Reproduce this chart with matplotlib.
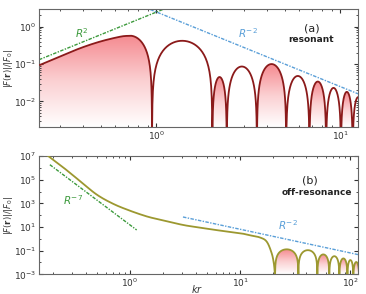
import numpy as np
import matplotlib
matplotlib.use('Agg')
import matplotlib.pyplot as plt
from matplotlib.colors import LinearSegmentedColormap
from matplotlib.patches import Polygon
from matplotlib.ticker import FixedLocator, NullFormatter, LogFormatterMathtext

# ---- panel (a): resonant ----
a_rise_x = [0.234, 0.30, 0.386, 0.496, 0.637, 0.72]
a_rise_y = [0.095, 0.158, 0.265, 0.40, 0.54, 0.575]
a_zeros = [0.95, 2.02, 2.42, 3.53, 5.09, 6.81, 8.39, 10.1, 11.7, 13.4]
a_peaks = [0.42, 0.045, 0.086, 0.10, 0.048, 0.034, 0.023, 0.018, 0.013]
a_filled = [True, False, True, False, True, False, True, False, True, False]

# ---- panel (b): off-resonance ----
b_x = [0.181, 0.248, 0.351, 0.498, 0.705, 1.0, 1.42, 1.87, 3.03, 4.3, 6.1,
       10.0, 12.3, 15.2, 17.5, 19.4, 20.3, 20.7]
b_y = [1e7, 1.08e6, 7.8e4, 5.6e3, 910, 240, 79, 42, 15, 9.0, 5.5,
       3.0, 2.0, 1.3, 0.57, 0.06, 0.008, 0.0012]
b_zeros = [20.8, 33.9, 50.4, 64.7, 79.9, 94.6, 107, 121]
b_peaks = [0.13, 0.11, 0.048, 0.034, 0.022, 0.016, 0.011]
b_filled = [True, False, True, False, True, False, True]

# guide lines (power laws)
a_r2 = (2.45, [0.231, 1.1])
a_rm2 = (2.5, [0.93, 12.5])
b_rm7 = (15.0, [0.187, 1.15])
b_rm2 = (650.0, [3.03, 118])

red = '#8b1a1a'
olive = '#9c9830'
green = '#3c9a3c'
blue = '#5a9fd8'
grad = LinearSegmentedColormap.from_list('g', ['#ffffff', '#fbd0d2', '#f58a90'])
dashdot = (0, (2.5, 1, 1, 1))


def smooth(x, y, n=16):
    # Catmull-Rom through the read points, in log-log space (for drawing only)
    P = np.column_stack([np.log10(x), np.log10(y)])
    P = np.vstack([2 * P[0] - P[1], P, 2 * P[-1] - P[-2]])
    out = []
    t = np.linspace(0, 1, n, endpoint=False)[:, None]
    for i in range(1, len(P) - 2):
        p0, p1, p2, p3 = P[i - 1:i + 3]
        out.append(0.5 * (2 * p1 + (-p0 + p2) * t
                          + (2 * p0 - 5 * p1 + 4 * p2 - p3) * t ** 2
                          + (-p0 + 3 * p1 - 3 * p2 + p3) * t ** 3))
    out.append(P[-2][None])
    out = np.vstack(out)
    return 10 ** out[:, 0], 10 ** out[:, 1]


def arc(x0, x1, peak, n=80, half=None):
    s = np.linspace(0, 1, n)
    t = (1 - np.cos(np.pi * s)) / 2
    lx = np.log10(x0) + t * (np.log10(x1) - np.log10(x0))
    if half == 'fall':
        y = peak * np.cos(np.pi / 2 * t)
    else:
        y = peak * np.sin(np.pi * t)
    return 10 ** lx, y


def grad_fill(ax, x, y, ybot):
    y = np.maximum(y, 1e-12)
    verts = np.column_stack([np.r_[x[0], x, x[-1]], np.r_[ybot, y, ybot]])
    poly = Polygon(verts, closed=True, transform=ax.transData)
    to_ax = ax.transData + ax.transAxes.inverted()
    yb_ax = ax.get_ylim()[0]
    (ax0, ay0), (ax1, ay1) = to_ax.transform([(x[0], yb_ax), (x[-1], y.max())])
    img = np.linspace(0, 1, 256).reshape(-1, 1)
    xl, yl = ax.get_xlim(), ax.get_ylim()
    im = ax.imshow(img, cmap=grad, origin='lower', aspect='auto',
                   extent=[ax0, ax1, ay0, ay1], transform=ax.transAxes,
                   zorder=1, interpolation='bilinear')
    im.set_clip_path(poly)
    ax.set_xlim(xl)
    ax.set_ylim(yl)


def style(ax):
    ax.set_xscale('log')
    ax.set_yscale('log')
    ax.tick_params(which='both', direction='in', top=True, right=True,
                   labelsize=6.5, colors='#333333', pad=2)
    ax.tick_params(which='major', length=3)
    ax.tick_params(which='minor', length=1.5)
    for sp in ax.spines.values():
        sp.set_color('#666666')
        sp.set_linewidth(0.8)


fig = plt.figure(figsize=(3.66, 2.94), dpi=100)
axa = fig.add_axes([0.1066, 0.569, 0.8715, 0.4])
axb = fig.add_axes([0.1066, 0.067, 0.8715, 0.402])

# ---- (a) ----
style(axa)
axa.set_xlim(0.231, 12.5)
axa.set_ylim(0.0021, 2.96)

segs = []
rx, ry = smooth(a_rise_x, a_rise_y)
fx, fy = arc(a_rise_x[-1], a_zeros[0], a_rise_y[-1], half='fall')
segs.append((np.r_[rx[:-1], fx], np.r_[ry[:-1], fy]))
for i, pk in enumerate(a_peaks):
    segs.append(arc(a_zeros[i], a_zeros[i + 1], pk))
for (x, y), f in zip(segs, a_filled):
    if f:
        grad_fill(axa, x, y, 1e-4)
xa = np.concatenate([s[0] for s in segs])
ya = np.concatenate([s[1] for s in segs])
axa.plot(xa, np.maximum(ya, 1e-9), color=red, lw=1.3, zorder=3)

c, (l0, l1) = a_r2
xx = np.array([l0, l1])
axa.plot(xx, c * xx ** 2, color=green, lw=1, ls=dashdot, zorder=2)
c, (l0, l1) = a_rm2
xx = np.array([l0, l1])
axa.plot(xx, c * xx ** -2.0, color=blue, lw=1, ls=dashdot, zorder=2)
axa.text(0.395, 0.67, '$R^2$', color=green, fontsize=7.5, ha='center', va='center')
axa.text(3.16, 0.67, '$R^{-2}$', color=blue, fontsize=7.5, ha='center', va='center')
axa.text(0.854, 0.836, '(a)', transform=axa.transAxes, fontsize=8, ha='center',
         va='center', color='#222222')
axa.text(0.854, 0.743, 'resonant', transform=axa.transAxes, fontsize=6.5,
         fontweight='bold', ha='center', va='center', color='#222222')
axa.yaxis.set_major_locator(FixedLocator([1e-2, 1e-1, 1e0]))
axa.xaxis.set_major_locator(FixedLocator([1e0, 1e1]))
axa.xaxis.set_major_formatter(LogFormatterMathtext())
axa.yaxis.set_major_formatter(LogFormatterMathtext())
axa.set_ylabel(r'$|F(\mathbf{r})|/|F_0|$', fontsize=6, color='#333333')

# ---- (b) ----
style(axb)
axb.set_xlim(0.149, 118)
axb.set_ylim(1e-3, 1e7)

bsegs = []
for i, pk in enumerate(b_peaks):
    bsegs.append(arc(b_zeros[i], b_zeros[i + 1], pk))
for (x, y), f in zip(bsegs, b_filled):
    if f:
        grad_fill(axb, x, y, 1e-5)
sx, sy = smooth(b_x, b_y)
xb = np.concatenate([sx, [b_zeros[0]]] + [s[0] for s in bsegs])
yb = np.concatenate([sy, [1e-9]] + [s[1] for s in bsegs])
axb.plot(xb, np.maximum(yb, 1e-9), color=olive, lw=1.3, zorder=3)

c, (l0, l1) = b_rm7
xx = np.array([l0, l1])
axb.plot(xx, c * xx ** -7.0, color=green, lw=1, ls=dashdot, zorder=2)
c, (l0, l1) = b_rm2
xx = np.array([l0, l1])
axb.plot(xx, c * xx ** -2.0, color=blue, lw=1, ls=dashdot, zorder=2)
axb.text(0.305, 2e3, '$R^{-7}$', color=green, fontsize=7.5, ha='center', va='center')
axb.text(27.5, 15, '$R^{-2}$', color=blue, fontsize=7.5, ha='center', va='center')
axb.text(0.85, 0.79, '(b)', transform=axb.transAxes, fontsize=8, ha='center',
         va='center', color='#222222')
axb.text(0.87, 0.695, 'off-resonance', transform=axb.transAxes, fontsize=6.5,
         fontweight='bold', ha='center', va='center', color='#222222')
axb.yaxis.set_major_locator(FixedLocator([1e-3, 1e-1, 1e1, 1e3, 1e5, 1e7]))
axb.yaxis.set_minor_locator(FixedLocator([1e-2, 1e0, 1e2, 1e4, 1e6]))
axb.yaxis.set_minor_formatter(NullFormatter())
axb.xaxis.set_major_locator(FixedLocator([1e0, 1e1, 1e2]))
axb.xaxis.set_major_formatter(LogFormatterMathtext())
axb.yaxis.set_major_formatter(LogFormatterMathtext())
axb.set_ylabel(r'$|F(\mathbf{r})|/|F_0|$', fontsize=6, color='#333333')
axb.set_xlabel('$kr$', fontsize=7, color='#333333')

axa.yaxis.set_label_coords(-0.076, 0.5)
axb.yaxis.set_label_coords(-0.076, 0.5)
axb.xaxis.set_label_coords(0.495, -0.07)

fig.savefig('out.png', dpi=100)
